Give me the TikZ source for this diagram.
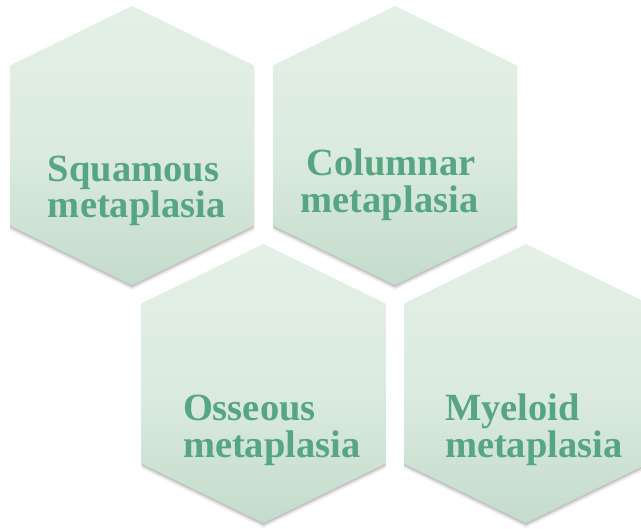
\documentclass[tikz,border=0pt]{standalone}
\usepackage{fontspec}
\setmainfont{Liberation Serif}
\definecolor{txtgreen}{RGB}{86,166,130}
\definecolor{hextop}{RGB}{227,240,230}
\definecolor{hexmid}{RGB}{220,235,224}
\definecolor{hexbot}{RGB}{196,220,204}
\newcommand\hexshape{(-122,-80) -- (0,-139.5) -- (122,-80) -- (122,80) -- (0,139.5) -- (-122,80) -- cycle}
\newcommand\hexdraw[2]{%
  \begin{scope}[shift={(#1,#2)}]
    \fill[black,opacity=0.05] [shift={(0,5)}] \hexshape;
    \fill[black,opacity=0.08] [shift={(0,3.5)}] \hexshape;
    \fill[black,opacity=0.12] [shift={(0,2)}] \hexshape;
    \shade[top color=hextop, bottom color=hexbot, middle color=hexmid] \hexshape;
  \end{scope}}
\tikzset{
  lbl/.style={text=txtgreen, font=\fontsize{38.5}{40}\selectfont\bfseries, inner sep=0pt, outer sep=0pt},
}
\begin{document}
\begin{tikzpicture}[x=1pt,y=-1pt]
\useasboundingbox (0,0) rectangle (641,529);
\begin{scope}
\clip (0,0) rectangle (641,529);
\hexdraw{132}{145.5}
\hexdraw{395}{145.5}
\hexdraw{263.5}{383.5}
\hexdraw{526}{383.5}
\end{scope}
\node[lbl, anchor=base west] (sq1) at (48,182) {Squamous};
\node[lbl, anchor=base west] (sq2) at (48,218) {metaplasia};
\node[lbl, anchor=base] (co1) at (391,176) {Columnar};
\node[lbl, anchor=base] (co2) at (389.5,213) {metaplasia};
\node[lbl, anchor=base west] (os1) at (183,421) {Osseous};
\node[lbl, anchor=base west] (os2) at (183,458) {metaplasia};
\node[lbl, anchor=base west] (my1) at (445,421) {Myeloid};
\node[lbl, anchor=base west] (my2) at (445,458) {metaplasia};
\end{tikzpicture}
\end{document}
